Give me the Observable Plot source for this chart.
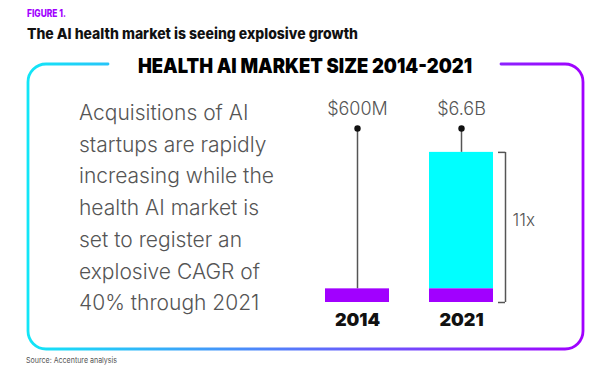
<!DOCTYPE html>
<html>
<head>
<meta charset="utf-8">
<script src="https://cdn.jsdelivr.net/npm/d3@7"></script>
<script src="https://cdn.jsdelivr.net/npm/@observablehq/plot@0.6"></script>
<style>
  html, body { margin: 0; padding: 0; background: #fff; }
  #wrap { position: relative; width: 600px; height: 378px; overflow: hidden; font-family: Inter, "Noto Sans", sans-serif; }
  #wrap > svg { position: absolute; left: 0; top: 0; }
</style>
</head>
<body>
<div id="wrap"></div>
<script>
// ---- data ----
const years = ["2014", "2021"];
const marketSize = [0.6, 6.6];            // $ billions
const valueLabels = ["$600M", "$6.6B"];
const growthLabel = "11x";
const figureLabel = "FIGURE 1.";
const titleText = "The AI health market is seeing explosive growth";
const boxTitle = "HEALTH AI MARKET SIZE 2014-2021";
const paragraph = [
  "Acquisitions of AI",
  "startups are rapidly",
  "increasing while the",
  "health AI market is",
  "set to register an",
  "explosive CAGR of",
  "40% through 2021"
];
const sourceText = "Source: Accenture analysis";

// ---- styles ----
const purple = "#a100ff";
const cyan = "#00ffff";
const gray = "#555";
const wrap = document.getElementById("wrap");

// ---- decoration layer (frame + texts) ----
const deco = d3.create("svg").attr("width", 600).attr("height", 378)
  .style("font-family", "Inter, 'Noto Sans', sans-serif");
const defs = deco.append("defs");
const grad = defs.append("linearGradient").attr("id", "frameGrad")
  .attr("gradientUnits", "userSpaceOnUse").attr("x1", 28).attr("x2", 583).attr("y1", 0).attr("y2", 0);
grad.append("stop").attr("offset", "0%").attr("stop-color", "#12e6f7");
grad.append("stop").attr("offset", "100%").attr("stop-color", purple);

deco.append("path")
  .attr("d", "M108,64 H46 A18,18 0 0 0 28,82 V331 A18,18 0 0 0 46,349 H565 A18,18 0 0 0 583,331 V82 A18,18 0 0 0 565,64 H501")
  .attr("fill", "none").attr("stroke", "url(#frameGrad)").attr("stroke-width", 2.8).attr("stroke-linecap", "round");

deco.append("text").attr("x", 27).attr("y", 17).attr("fill", purple)
  .attr("font-size", 10).attr("font-weight", 800).attr("textLength", 39).attr("lengthAdjust", "spacingAndGlyphs")
  .text(figureLabel);
deco.append("text").attr("x", 27).attr("y", 39).attr("fill", "#111")
  .attr("font-size", 15).attr("font-weight", 800).attr("textLength", 331).attr("lengthAdjust", "spacingAndGlyphs")
  .text(titleText);
deco.append("text").attr("x", 138).attr("y", 73).attr("fill", "#000")
  .attr("font-size", 20).attr("font-weight", 900).attr("textLength", 334).attr("lengthAdjust", "spacingAndGlyphs")
  .text(boxTitle);

const para = deco.append("text").attr("x", 79).attr("y", 120).attr("fill", gray)
  .attr("font-size", 21).attr("font-weight", 300);
paragraph.forEach((line, i) => {
  para.append("tspan").attr("x", 79).attr("dy", i === 0 ? 0 : 31.7).text(line);
});

deco.append("text").attr("x", 26).attr("y", 363).attr("fill", gray)
  .attr("font-size", 8).attr("textLength", 91).attr("lengthAdjust", "spacingAndGlyphs")
  .text(sourceText);

wrap.appendChild(deco.node());

// ---- chart layer ----
const rows = years.map((year, i) => ({year, value: marketSize[i], label: valueLabels[i]}));
const base = marketSize[0];
const latest = rows[rows.length - 1];
const bracketEnds = [{year: latest.year, v: 0}, {year: latest.year, v: latest.value}];

const chart = Plot.plot({
  width: 600,
  height: 378,
  marginLeft: 314,
  marginRight: 97,
  marginTop: 128,
  marginBottom: 76,
  x: {domain: years, paddingInner: 0.385, paddingOuter: 0.1, axis: null},
  y: {domain: [0, 7.65], axis: null},
  style: {background: "transparent", fontFamily: "Inter, 'Noto Sans', sans-serif", overflow: "visible"},
  marks: [
    Plot.ruleX(rows, {x: "year", y1: "value", y2: 7.65, stroke: gray, strokeWidth: 1.5}),
    Plot.dot(rows, {x: "year", frameAnchor: "top", r: 3.2, fill: "#111", stroke: null}),
    Plot.barY(rows.filter(d => d.value > base), {x: "year", y1: base, y2: "value", fill: cyan}),
    Plot.barY(rows, {x: "year", y1: 0, y2: base, fill: purple}),
    Plot.text(rows, {x: "year", text: "label", frameAnchor: "top", lineAnchor: "bottom", dy: -14,
      fontSize: 18, fontWeight: 300, fill: gray}),
    Plot.text(rows, {x: "year", text: "year", frameAnchor: "bottom", lineAnchor: "top", dy: 11,
      fontSize: 18, fontWeight: 900, fill: "#111"}),
    Plot.ruleX([latest], {x: "year", y1: 0, y2: "value", dx: 44, stroke: gray, strokeWidth: 1.5}),
    Plot.tickY(bracketEnds, {x: "year", y: "v", insetLeft: 57, dx: 12, stroke: gray, strokeWidth: 1.5}),
    Plot.text([latest], {x: "year", y: d => d.value / 2, text: () => growthLabel, dx: 51, dy: -7,
      textAnchor: "start", fontSize: 17, fontWeight: 300, fill: gray})
  ]
});
wrap.appendChild(chart);
</script>
</body>
</html>
